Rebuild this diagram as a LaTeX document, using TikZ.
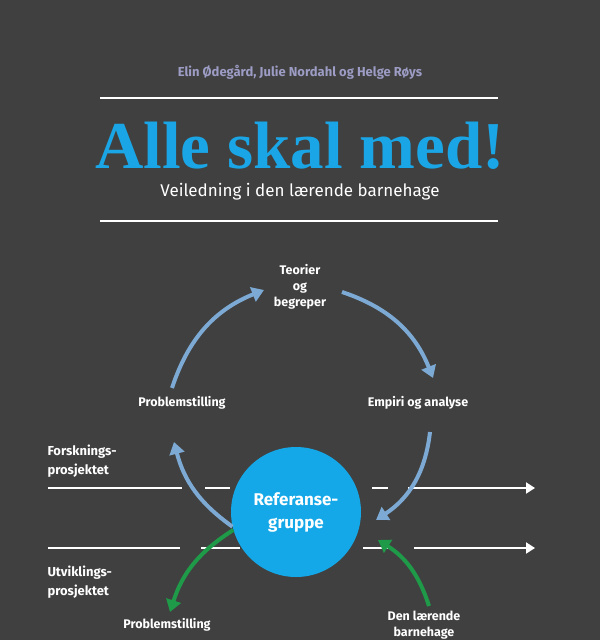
\documentclass[tikz,border=0pt]{standalone}
\usepackage{fontspec}
\setmainfont{Fira Sans}
\newfontfamily\titlefont{Liberation Serif}
\usepackage{tikz}
\usetikzlibrary{arrows.meta,positioning}
\definecolor{bg}{HTML}{404040}
\definecolor{titleblue}{HTML}{1AA6E6}
\definecolor{circblue}{HTML}{14A8E8}
\definecolor{paleblue}{HTML}{7CAAD4}
\definecolor{leafgreen}{HTML}{1E9A48}
\definecolor{authorgrey}{HTML}{9C9CC4}

\begin{document}
\begin{tikzpicture}[x=1pt,y=-1pt,
  label/.style={text=white, font=\bfseries\fontsize{12.5}{16}\selectfont, align=center},
  sidelabel/.style={label, align=left, anchor=west, font=\bfseries\fontsize{13}{19}\selectfont},
  cyclearrow/.style={paleblue, line width=4pt, -{Triangle[length=12pt,width=15pt]}},
  greenarrow/.style={leafgreen, line width=4pt, -{Triangle[length=12pt,width=15pt]}},
  track/.style={white, line width=2pt}]

\fill[bg] (0,0) rectangle (600,640);
\useasboundingbox (0,0) rectangle (600,640);

% header
\node[text=authorgrey, font=\bfseries\fontsize{13}{14}\selectfont] (authors) at (300,72) {Elin Ødegård, Julie Nordahl og Helge Røys};
\draw[white, line width=1.2pt] (100,98) -- (498,98);
\node[text=titleblue, font=\titlefont\bfseries\fontsize{67}{67}\selectfont] (title) at (300,146) {Alle skal med!};
\node[text=white, font=\fontsize{17}{20}\selectfont] (subtitle) at (300,192) {Veiledning i den lærende barnehage};
\draw[white, line width=1.2pt] (100,221) -- (498,221);

% cycle
\node[label] (teori) at (300,287) {Teorier\\og\\begreper};
\node[label] (prob1) at (182,403) {Problemstilling};
\node[label] (empiri) at (418,403) {Empiri og analyse};
\node[circle, fill=circblue, minimum size=130pt, label, font=\bfseries\fontsize{17}{23}\selectfont] (ref) at (296,512) {Referanse-\\gruppe};

\node[sidelabel] (forsk) at (44,461) {Forsknings-\\prosjektet};
\node[sidelabel] (utvikl) at (44,582) {Utviklings-\\prosjektet};
\node[label] (prob2) at (167,625) {Problemstilling};
\node[label] (barnehage) at (424,625) {Den lærende\\barnehage};

% tracks
\draw[track] (48,488) -- (182,488);
\draw[track] (205,488) -- (230,488);
\draw[track] (372,488) -- (388,488);
\draw[track, -{Triangle[length=9pt,width=11pt]}] (408,488) -- (535,488);
\draw[track] (48,548) -- (180,548);
\draw[track] (201,548) -- (240,548);
\draw[track] (363,548) -- (392,548);
\draw[track, -{Triangle[length=9pt,width=11pt]}] (414,548) -- (535,548);

% arrows
\coordinate (a1s) at (172,388);
\coordinate (a1e) at (264,290);
\coordinate (a2s) at (342,292);
\coordinate (a2e) at (433,378);
\coordinate (a3s) at (430,432);
\coordinate (a3e) at (376,520);
\coordinate (a4e) at (174,442);
\coordinate (a5e) at (170,612);
\coordinate (a6s) at (429,606);
\coordinate (a6e) at (378,540);
\draw[cyclearrow] (a1s) to[bend left=25] (a1e);
\draw[cyclearrow] (a2s) to[bend left=25] (a2e);
\draw[cyclearrow] (a3s) to[bend left=25] (a3e);
\draw[cyclearrow] (ref.193) to[bend left=20] (a4e);
\draw[greenarrow] (ref.196) to[bend right=20] (a5e);
\draw[greenarrow] (a6s) to[bend right=20] (a6e);

\end{tikzpicture}
\end{document}
